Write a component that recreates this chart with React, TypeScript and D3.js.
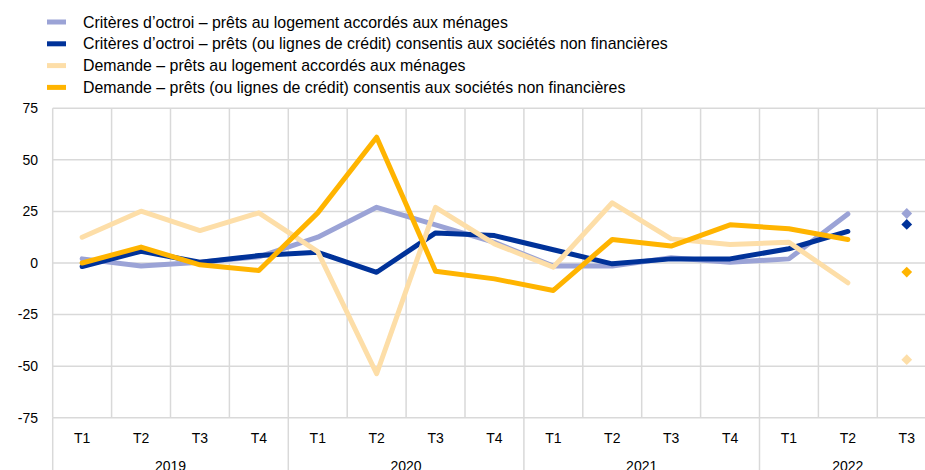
import * as d3 from "d3";
import React from "react";

// ── Data ──────────────────────────────────────────────────────────────────────
const QUARTERS = ["T1", "T2", "T3", "T4", "T1", "T2", "T3", "T4", "T1", "T2", "T3", "T4", "T1", "T2", "T3"];
const YEARS = ["2019", "2020", "2021", "2022"];
const YEAR_SPANS = [4, 4, 4, 3];

// Réalisé (2019 T1 → 2022 T2)
const CRIT_MENAGES = [2, -1.5, 0.4, 3, 12.5, 27, 18.5, 10, -1.5, -1.5, 2.5, 0.4, 2, 23.8];
const CRIT_SNF = [-1.7, 5.7, 0.4, 3.6, 5.2, -4.5, 14.6, 13.3, 6.4, -0.4, 2, 2, 6.9, 15.3];
const DEM_MENAGES = [12.5, 25.1, 15.7, 24.3, 5.5, -53.7, 27, 9.3, -2, 29.2, 11.7, 9, 10, -9.6];
const DEM_SNF = [0, 7.7, -0.9, -3.6, 24.3, 61, -4, -7.7, -13.3, 11.4, 8.2, 18.5, 16.6, 11.4];

// Anticipations (2022 T3)
const EXPECTED = [24, 18.7, -46.9, -4.4];

const Y_TICKS = [75, 50, 25, 0, -25, -50, -75];

const SERIES = [
  { name: "Critères d\u2019octroi \u2013 prêts au logement accordés aux ménages", color: "#9ba3d6", values: CRIT_MENAGES, expected: EXPECTED[0] },
  { name: "Critères d\u2019octroi \u2013 prêts (ou lignes de crédit) consentis aux sociétés non financières", color: "#003299", values: CRIT_SNF, expected: EXPECTED[1] },
  { name: "Demande \u2013 prêts au logement accordés aux ménages", color: "#fddea8", values: DEM_MENAGES, expected: EXPECTED[2] },
  { name: "Demande \u2013 prêts (ou lignes de crédit) consentis aux sociétés non financières", color: "#ffb400", values: DEM_SNF, expected: EXPECTED[3] },
];

// ── Layout ────────────────────────────────────────────────────────────────────
const W = 925;
const H = 470;
const LEFT = 52.7;
const BAND = 58.9;
const TOP = 108.3;
const BOTTOM = 417.7;
const FONT = "'Liberation Sans', Arial, Helvetica, sans-serif";
const GRID = "#d9d9d9";

export default function App() {
  const x = d3
    .scaleBand<number>()
    .domain(d3.range(QUARTERS.length))
    .range([LEFT, LEFT + BAND * QUARTERS.length])
    .padding(0);
  const cx = (i: number) => (x(i) ?? 0) + x.bandwidth() / 2;
  const y = d3.scaleLinear().domain([-75, 75]).range([BOTTOM, TOP]);

  const line = d3
    .line<number>()
    .x((_, i) => cx(i))
    .y((d) => y(d));

  // square turned 45° → diamond with equal diagonals
  const diamond = d3.symbol().type(d3.symbolSquare).size(58)();

  // year group boundaries
  const yearEdges: number[] = [0];
  YEAR_SPANS.forEach((s, i) => yearEdges.push(yearEdges[i] + s));
  const edgeX = (k: number) => (k < QUARTERS.length ? x(k) ?? 0 : LEFT + BAND * QUARTERS.length);

  return (
    <svg
      width={W}
      height={H}
      style={{ position: "absolute", left: 0, top: 0, background: "#fff" }}
      fontFamily={FONT}
    >
      {/* Legend */}
      {SERIES.map((s, i) => {
        const ly = 22 + i * 21.8;
        return (
          <g key={s.name}>
            <rect x={47} y={ly - 2.5} width={19} height={5} fill={s.color} />
            <text x={83} y={ly} dy="0.35em" fontSize={15.9} fill="#000">
              {s.name}
            </text>
          </g>
        );
      })}

      {/* Horizontal grid */}
      {Y_TICKS.map((t) => (
        <g key={t}>
          <line x1={LEFT} x2={W} y1={y(t)} y2={y(t)} stroke={GRID} strokeWidth={1.5} />
          <text x={38} y={y(t)} dy="0.35em" textAnchor="end" fontSize={14} fill="#000">
            {t}
          </text>
        </g>
      ))}

      {/* Vertical grid (category boundaries) */}
      {d3.range(QUARTERS.length + 1).map((k) => (
        <line key={k} x1={edgeX(k)} x2={edgeX(k)} y1={TOP} y2={BOTTOM} stroke={GRID} strokeWidth={1.5} />
      ))}

      {/* Year separators below the axis */}
      {yearEdges.map((k) => (
        <line key={"ye" + k} x1={edgeX(k)} x2={edgeX(k)} y1={BOTTOM} y2={H} stroke={GRID} strokeWidth={1.5} />
      ))}

      {/* Quarter labels */}
      {QUARTERS.map((q, i) => (
        <text key={"q" + i} x={cx(i)} y={443} textAnchor="middle" fontSize={14} fill="#000">
          {q}
        </text>
      ))}

      {/* Year labels (cut by the bottom edge, as in the source) */}
      {YEARS.map((yr, i) => (
        <text
          key={yr}
          x={(edgeX(yearEdges[i]) + edgeX(yearEdges[i + 1])) / 2}
          y={471}
          textAnchor="middle"
          fontSize={14}
          fill="#000"
        >
          {yr}
        </text>
      ))}

      {/* Lines */}
      {SERIES.map((s) => (
        <path
          key={"l" + s.name}
          d={line(s.values) ?? ""}
          fill="none"
          stroke={s.color}
          strokeWidth={5}
          strokeLinejoin="round"
          strokeLinecap="round"
        />
      ))}

      {/* Expectations (diamonds) */}
      {SERIES.map((s) => (
        <path
          key={"d" + s.name}
          d={diamond ?? ""}
          transform={`translate(${cx(QUARTERS.length - 1)},${y(s.expected)}) rotate(45)`}
          fill={s.color}
        />
      ))}
    </svg>
  );
}
